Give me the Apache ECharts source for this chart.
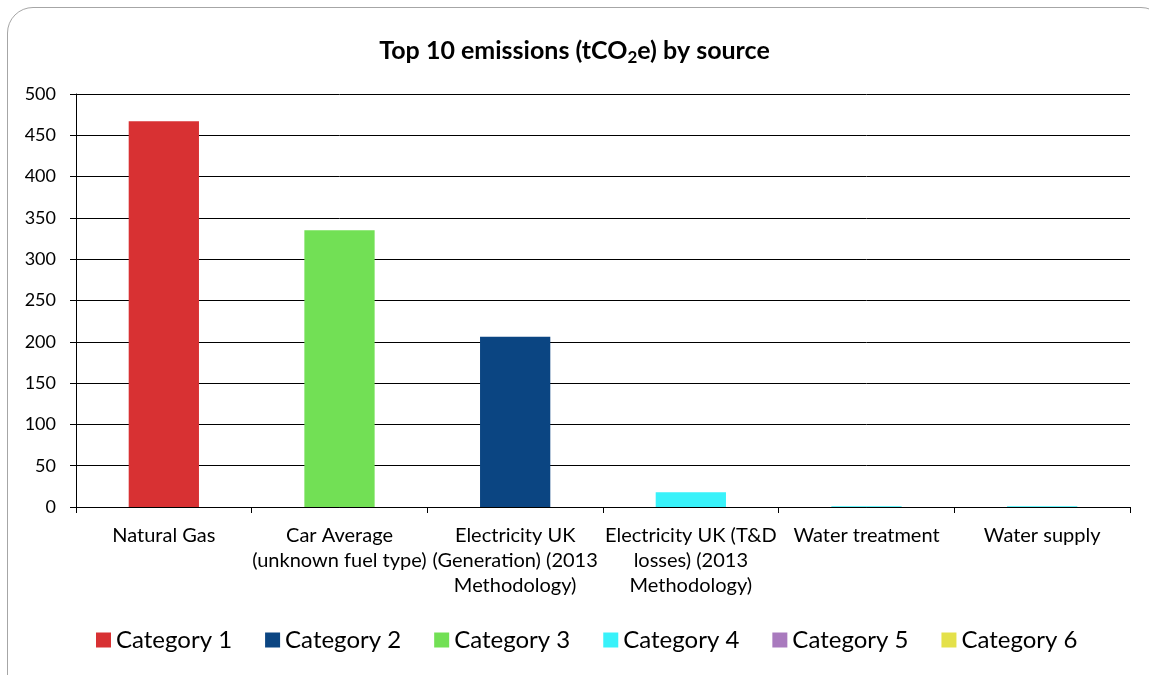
<!DOCTYPE html>
<html>
<head>
<meta charset="utf-8">
<script src="https://cdn.jsdelivr.net/npm/echarts@6/dist/echarts.min.js"></script>
<style>
html,body{margin:0;padding:0;background:#fff;}
#frame{position:absolute;left:7px;top:7px;width:1160px;height:700px;border:1.5px solid #a6a6a6;border-radius:26px;box-sizing:border-box;}
#chart{position:absolute;left:0;top:0;width:1149px;height:675px;}
</style>
</head>
<body>
<div id="frame"></div>
<div id="chart"></div>
<script>
const categories = ["Natural Gas", "Car Average\n(unknown fuel type)", "Electricity UK\n(Generation) (2013\nMethodology)", "Electricity UK (T&D\nlosses) (2013\nMethodology)", "Water treatment", "Water supply"];
const seriesNames = ["Category 1", "Category 2", "Category 3", "Category 4", "Category 5", "Category 6"];
const seriesColors = ["#d83133", "#0b4582", "#72e055", "#39f2fa", "#a97abe", "#e4e14a"];
const cat1 = [467, null, null, null, null, null];
const cat2 = [null, null, 206, null, null, null];
const cat3 = [null, 335, null, null, null, null];
const cat4 = [null, null, null, 18, 1, 1];
const cat5 = [null, null, null, null, null, null];
const cat6 = [null, null, null, null, null, null];
const seriesData = [cat1, cat2, cat3, cat4, cat5, cat6];
const yTicks = {min: 0, max: 500, interval: 50};

const font = "Lato, 'Open Sans', sans-serif";
const chart = echarts.init(document.getElementById('chart'), null, {renderer: 'canvas'});
chart.setOption({
  animation: false,
  title: {
    text: '{a|Top 10 emissions (tCO}{s|2}{a|e) by source}',
    left: 'center', top: 30,
    textStyle: {
      rich: {
        a: {fontFamily: font, fontWeight: 'bold', fontSize: 25, color: '#000'},
        s: {fontFamily: font, fontWeight: 'bold', fontSize: 17, color: '#000', padding: [14, 0, 0, 0]}
      }
    }
  },
  legend: {
    top: 623, left: 91,
    itemWidth: 15, itemHeight: 15, itemGap: 33,
    icon: 'rect',
    textStyle: {fontFamily: font, fontSize: 24, color: '#000', padding: [0, 0, 0, 0]},
    data: seriesNames
  },
  grid: {left: 76, right: 19, top: 94, bottom: 168, containLabel: false},
  xAxis: {
    type: 'category', data: categories,
    axisLine: {lineStyle: {color: '#000', width: 1}},
    axisTick: {show: true, alignWithLabel: false, length: 6, lineStyle: {color: '#000'}},
    axisLabel: {fontFamily: font, fontSize: 20, color: '#000', lineHeight: 25, margin: 16, interval: 0}
  },
  yAxis: {
    type: 'value', min: yTicks.min, max: yTicks.max, interval: yTicks.interval,
    axisLine: {show: true, lineStyle: {color: '#000', width: 1}},
    axisTick: {show: true, length: 6, lineStyle: {color: '#000'}},
    axisLabel: {fontFamily: font, fontSize: 18, color: '#000', margin: 20},
    splitLine: {show: true, lineStyle: {color: '#000', width: 1}}
  },
  series: seriesNames.map((n, i) => ({
    name: n, type: 'bar', stack: 'all', barWidth: '40%',
    itemStyle: {color: seriesColors[i]},
    data: seriesData[i]
  }))
});
</script>
</body>
</html>
